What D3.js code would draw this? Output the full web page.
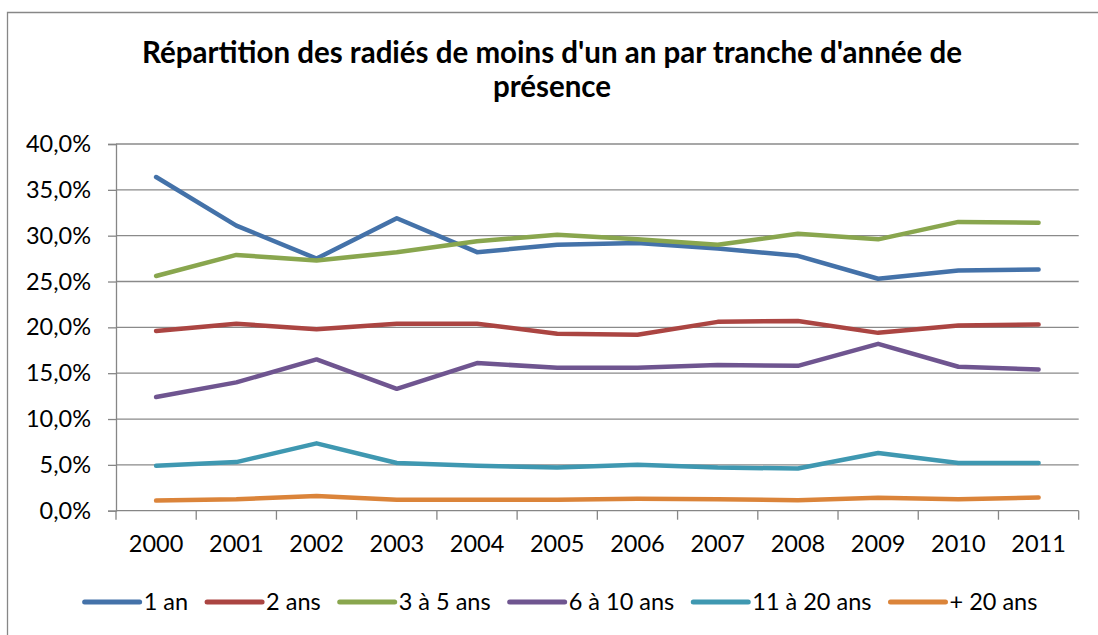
<!DOCTYPE html>
<html>
<head>
<meta charset="utf-8">
<script src="https://cdn.jsdelivr.net/npm/d3@7"></script>
<style>
  body { margin: 0; background: #fff; }
  svg { display: block; font-family: Lato, "Open Sans", sans-serif; }
</style>
</head>
<body>
<div id="chart"></div>
<script>
const years = ['2000', '2001', '2002', '2003', '2004', '2005', '2006', '2007', '2008', '2009', '2010', '2011'];
const yTicks = [0, 0.05, 0.10, 0.15, 0.20, 0.25, 0.30, 0.35, 0.40];

const seriesNames = ['1 an', '2 ans', '3 à 5 ans', '6 à 10 ans', '11 à 20 ans', '+ 20 ans'];
const an1 = [36.4, 31.1, 27.5, 31.9, 28.2, 29.0, 29.2, 28.6, 27.8, 25.3, 26.2, 26.3];
const ans2 = [19.6, 20.4, 19.8, 20.4, 20.4, 19.3, 19.2, 20.6, 20.7, 19.4, 20.2, 20.3];
const ans3a5 = [25.6, 27.9, 27.3, 28.2, 29.4, 30.1, 29.6, 29.0, 30.2, 29.6, 31.5, 31.4];
const ans6a10 = [12.4, 14.0, 16.5, 13.3, 16.1, 15.6, 15.6, 15.9, 15.8, 18.2, 15.7, 15.4];
const ans11a20 = [4.9, 5.3, 7.35, 5.2, 4.9, 4.7, 5.0, 4.7, 4.6, 6.3, 5.2, 5.2];
const plus20 = [1.1, 1.25, 1.6, 1.2, 1.2, 1.2, 1.3, 1.25, 1.15, 1.4, 1.25, 1.45];

const colors = ['#4472a9', '#ab4542', '#89a64e', '#6f5590', '#3f98b1', '#db843a'];

const seriesValues = [an1, ans2, ans3a5, ans6a10, ans11a20, plus20];
const series = seriesNames.map((name, i) => ({
  name,
  color: colors[i],
  points: years.map((y, j) => ({ year: y, value: seriesValues[i][j] / 100 }))
}));

const W = 1098, H = 635;
const plot = { left: 116, right: 1078.7, top: 144, bottom: 510.7 };
const labelSize = 23.5;

const svg = d3.select('#chart').append('svg')
  .attr('width', W)
  .attr('height', H);

// chart border (extends past the picture on the right and bottom)
svg.append('path')
  .attr('d', `M7.5,${H + 2}V12.5H${W + 2}`)
  .attr('fill', 'none')
  .attr('stroke', '#878787')
  .attr('stroke-width', 1.3);

// title
const title = svg.append('text')
  .attr('text-anchor', 'middle')
  .attr('font-weight', 'bold')
  .attr('font-size', 29.5)
  .attr('fill', '#000');
title.append('tspan').attr('x', 552).attr('y', 63).text("Répartition des radiés de moins d'un an par tranche d'année de");
title.append('tspan').attr('x', 552).attr('y', 97).text('présence');

// scales
const x = d3.scaleBand()
  .domain(years)
  .range([plot.left, plot.right])
  .padding(0);

const y = d3.scaleLinear()
  .domain([0, 0.4])
  .range([plot.bottom, plot.top]);

const locale = d3.formatLocale({ decimal: ',', thousands: ' ', grouping: [3], currency: ['', '€'] });
const pct = locale.format('.1%');

// gridlines
svg.append('g')
  .selectAll('line')
  .data(yTicks.filter(d => d > 0))
  .join('line')
  .attr('x1', plot.left)
  .attr('x2', plot.right)
  .attr('y1', d => y(d))
  .attr('y2', d => y(d))
  .attr('stroke', '#8a8a8a')
  .attr('stroke-width', 1.3);

// y axis
const yAxisG = svg.append('g')
  .attr('transform', `translate(${plot.left},0)`)
  .call(d3.axisLeft(y).tickValues(yTicks).tickFormat(pct).tickSize(8).tickPadding(17));
yAxisG.select('.domain').attr('stroke', '#868686').attr('stroke-width', 1.3);
yAxisG.selectAll('.tick line').attr('stroke', '#868686').attr('stroke-width', 1.3);
yAxisG.selectAll('.tick text')
  .attr('font-size', labelSize)
  .attr('font-family', 'Lato')
  .attr('fill', '#000');

// x axis: labels centred in bands, tick marks on band edges
const xAxisG = svg.append('g')
  .attr('transform', `translate(0,${plot.bottom})`)
  .call(d3.axisBottom(x).tickSize(0).tickPadding(25));
xAxisG.select('.domain').remove();
xAxisG.selectAll('.tick text')
  .attr('font-size', labelSize)
  .attr('font-family', 'Lato')
  .attr('fill', '#000');

const edges = years.map(d => x(d)).concat([plot.right]);
svg.append('g')
  .selectAll('line')
  .data(edges)
  .join('line')
  .attr('x1', d => d)
  .attr('x2', d => d)
  .attr('y1', plot.bottom)
  .attr('y2', plot.bottom + 9)
  .attr('stroke', '#868686')
  .attr('stroke-width', 1.3);

svg.append('line')
  .attr('x1', plot.left)
  .attr('x2', plot.right)
  .attr('y1', plot.bottom)
  .attr('y2', plot.bottom)
  .attr('stroke', '#868686')
  .attr('stroke-width', 1.3);

// lines
const line = d3.line()
  .x(d => x(d.year) + x.bandwidth() / 2)
  .y(d => y(d.value));

svg.append('g')
  .selectAll('path')
  .data(series)
  .join('path')
  .attr('d', d => line(d.points))
  .attr('fill', 'none')
  .attr('stroke', d => d.color)
  .attr('stroke-width', 4.5)
  .attr('stroke-linejoin', 'round')
  .attr('stroke-linecap', 'round');

// legend
const legend = svg.append('g');
const legendY = 602;
const swatch = 55, swatchGap = 4, itemGap = 19;
let cursor = 0;
series.forEach(s => {
  const item = legend.append('g').attr('transform', `translate(${cursor},0)`);
  item.append('line')
    .attr('x1', 0).attr('x2', swatch)
    .attr('y1', legendY).attr('y2', legendY)
    .attr('stroke', s.color)
    .attr('stroke-width', 5)
    .attr('stroke-linecap', 'round');
  const t = item.append('text')
    .attr('x', swatch + swatchGap)
    .attr('y', legendY)
    .attr('dy', '0.36em')
    .attr('font-size', labelSize)
    .attr('fill', '#000')
    .text(s.name);
  cursor += swatch + swatchGap + t.node().getComputedTextLength() + itemGap;
});
const legendWidth = cursor - itemGap;
legend.attr('transform', `translate(${561 - legendWidth / 2},0)`);
</script>
</body>
</html>
